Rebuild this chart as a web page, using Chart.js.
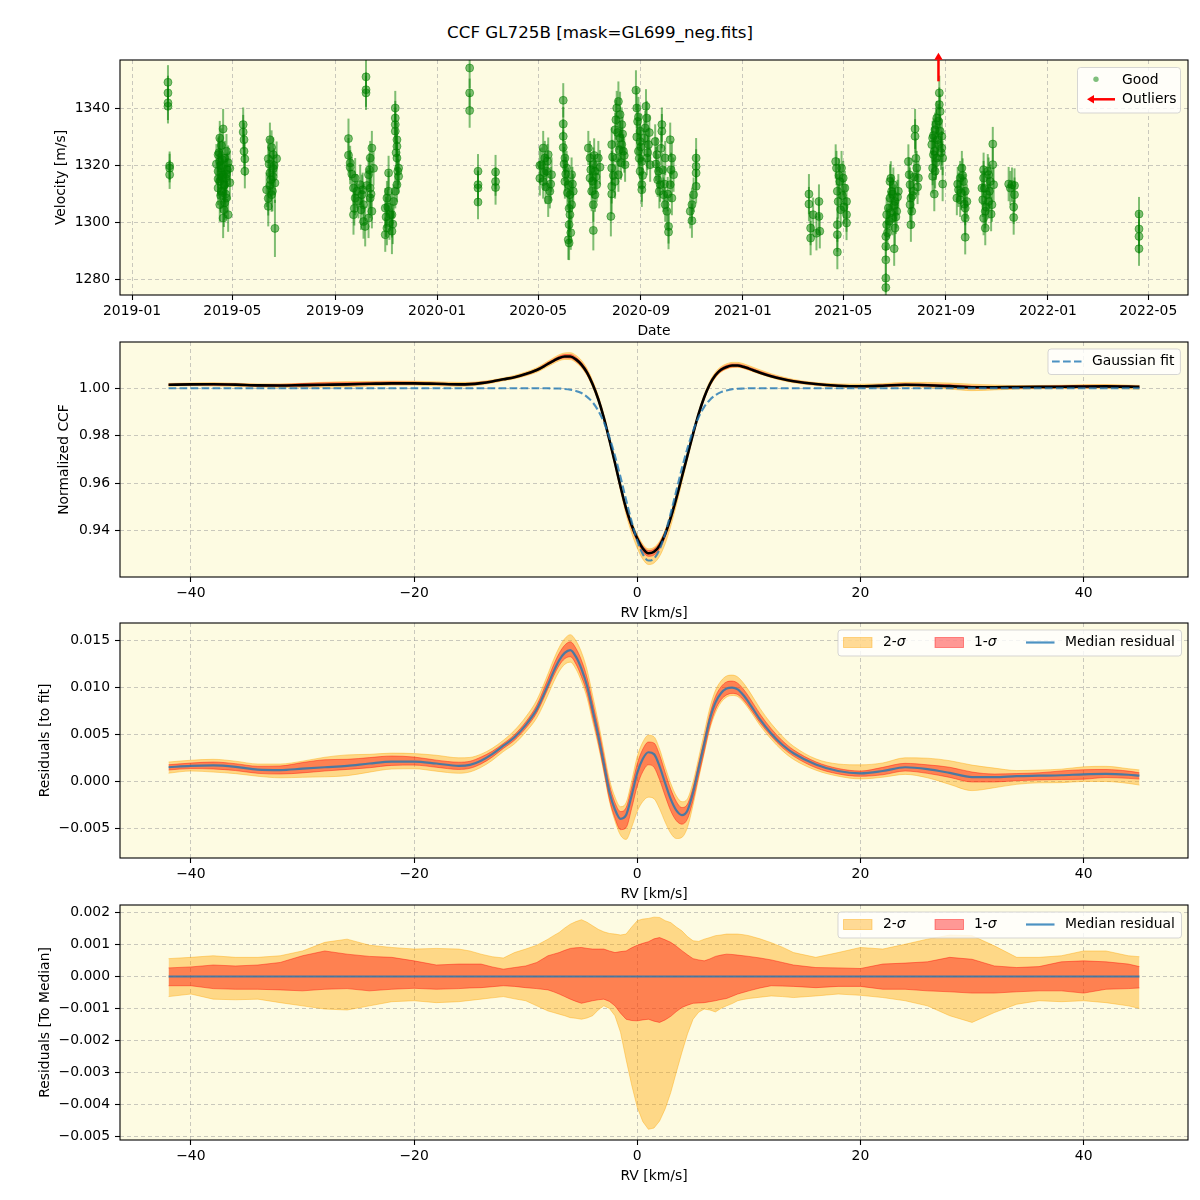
<!DOCTYPE html>
<html>
<head>
<meta charset="utf-8">
<script src="https://cdn.jsdelivr.net/npm/chart.js@4.4.1/dist/chart.umd.min.js"></script>
<style>
  body { margin: 0; background: #fff; }
  #wrap { position: relative; width: 1200px; height: 1200px; }
  canvas { position: absolute; left: 0; }
  #title { position: absolute; left: 0; top: 21px; width: 1200px; text-align: center;
           font-family: 'DejaVu Sans', sans-serif; font-size: 16.7px; line-height: 22px; color: #000; }
</style>
</head>
<body>
<div id="wrap">
  <div id="title">CCF GL725B [mask=GL699_neg.fits]</div>
  <canvas id="rvChart" width="1200" height="340" style="top:0px"></canvas>
  <canvas id="ccfChart" width="1200" height="282" style="top:340px"></canvas>
  <canvas id="residChart" width="1200" height="281" style="top:622px"></canvas>
  <canvas id="medChart" width="1200" height="297" style="top:903px"></canvas>
</div>
<script>
//------ Velocity time series (good points) ------//
const obsDate = [
  '2019-02-13','2019-02-13','2019-02-13','2019-02-13','2019-02-15','2019-02-15','2019-02-15',
  '2019-04-20','2019-04-16','2019-04-14','2019-04-16','2019-04-18','2019-04-14','2019-04-20','2019-04-16','2019-04-22','2019-04-14','2019-04-24','2019-04-16','2019-04-20','2019-04-26','2019-04-22','2019-04-24','2019-04-26','2019-04-24','2019-04-18','2019-04-22','2019-04-12','2019-04-28','2019-04-18','2019-04-28','2019-04-14',
  '2019-05-14','2019-05-14','2019-05-15','2019-05-15','2019-05-16','2019-05-16',
  '2019-06-15','2019-06-17','2019-06-13','2019-06-19','2019-06-15','2019-06-21','2019-06-11','2019-06-17','2019-06-13','2019-06-23','2019-06-19','2019-06-21','2019-06-15','2019-06-19','2019-06-13',
  '2019-09-17','2019-09-17','2019-09-19','2019-09-19','2019-09-25','2019-09-23','2019-09-25','2019-09-23','2019-10-01','2019-10-03','2019-10-05','2019-10-05','2019-10-07','2019-10-11','2019-10-13','2019-10-15','2019-10-13','2019-10-13','2019-10-15','2019-10-11','2019-09-29','2019-10-17',
  '2019-10-08','2019-10-08','2019-10-08',
  '2019-10-31','2019-10-31','2019-11-02','2019-11-04','2019-11-04','2019-11-08','2019-11-06','2019-11-02','2019-11-12','2019-11-12','2019-11-12','2019-11-12','2019-11-14','2019-11-14','2019-11-14','2019-11-16','2019-11-16','2019-11-14','2019-11-12','2019-11-10','2019-11-08',
  '2020-02-09','2020-02-09','2020-02-09',
  '2020-02-19','2020-02-19','2020-02-19','2020-02-19',
  '2020-03-11','2020-03-11','2020-03-11',
  '2020-05-07','2020-05-09','2020-05-05','2020-05-11','2020-05-07','2020-05-15','2020-05-13','2020-05-17','2020-05-13','2020-05-03','2020-05-03',
  '2020-05-31','2020-05-31','2020-05-31','2020-05-31','2020-06-02','2020-06-02','2020-06-04','2020-06-06','2020-06-06','2020-06-08','2020-06-08','2020-06-07','2020-06-07','2020-06-10','2020-06-10','2020-06-12',
  '2020-06-30','2020-07-02','2020-07-02','2020-07-06','2020-07-06','2020-07-06','2020-07-08','2020-07-08','2020-07-10','2020-07-04','2020-07-12','2020-07-14',
  '2020-07-27','2020-07-28','2020-07-28','2020-07-28','2020-07-28','2020-08-01','2020-08-01','2020-08-03','2020-08-03','2020-08-05','2020-08-05','2020-08-07','2020-08-07','2020-08-09','2020-08-09','2020-08-11','2020-08-13',
  '2020-08-26','2020-08-27','2020-08-28','2020-08-31','2020-08-31','2020-08-29','2020-09-02','2020-09-02','2020-09-02','2020-08-31','2020-09-07','2020-09-08','2020-09-08','2020-09-06','2020-09-10','2020-09-12',
  '2020-09-18','2020-09-20','2020-09-22','2020-09-24','2020-09-26','2020-09-26','2020-09-28','2020-09-30','2020-09-30','2020-10-02','2020-10-04','2020-10-04','2020-10-06','2020-10-06','2020-10-08','2020-10-08','2020-10-10',
  '2020-11-06','2020-11-06','2020-11-06','2020-11-06','2020-11-03','2020-11-01','2020-10-30','2020-11-01',
  '2021-03-21','2021-03-21','2021-03-23','2021-03-23','2021-03-26','2021-03-30','2021-04-02','2021-04-02','2021-04-03',
  '2021-04-22','2021-04-23','2021-04-24','2021-04-24','2021-04-24','2021-04-24','2021-04-25','2021-04-29','2021-05-01','2021-05-03','2021-05-05','2021-05-05','2021-05-05','2021-04-27',
  '2021-06-21','2021-06-21','2021-06-21','2021-06-21','2021-06-21','2021-06-22','2021-06-22','2021-06-24','2021-06-26','2021-06-26','2021-06-28','2021-06-30','2021-07-02','2021-07-02','2021-07-04','2021-07-01','2021-06-29','2021-07-06',
  '2021-07-18','2021-07-19','2021-07-20','2021-07-21','2021-07-20','2021-07-21','2021-07-26','2021-07-26','2021-07-28','2021-07-30','2021-07-24','2021-07-22',
  '2021-08-24','2021-08-24','2021-08-25','2021-08-21','2021-08-21','2021-08-19','2021-08-16','2021-08-16','2021-08-16','2021-08-15','2021-08-17','2021-08-18','2021-08-27','2021-08-27','2021-08-28','2021-08-28','2021-08-23','2021-08-20',
  '2021-09-20','2021-09-18','2021-09-18','2021-09-16','2021-09-24','2021-09-24','2021-09-24','2021-09-24','2021-09-14','2021-09-22','2021-09-26',
  '2021-10-27','2021-10-27','2021-10-16','2021-10-16','2021-10-16','2021-10-14','2021-10-20','2021-10-22','2021-10-22','2021-10-18','2021-10-18','2021-10-24','2021-10-28','2021-10-26',
  '2021-11-15','2021-11-17','2021-11-19','2021-11-22','2021-11-22','2021-11-21','2021-11-21',
  '2022-04-20','2022-04-20','2022-04-20','2022-04-20',
  // more points inside the dense clusters
  '2019-04-17','2019-04-19','2019-04-21','2019-04-23','2019-04-15','2019-04-25','2019-04-19','2019-04-17','2019-04-21','2019-04-23',
  '2019-06-14','2019-06-16','2019-06-18','2019-06-20',
  '2019-09-21','2019-09-27','2019-10-02','2019-10-04','2019-10-09','2019-10-12','2019-10-14','2019-09-24',
  '2019-11-01','2019-11-03','2019-11-05','2019-11-13','2019-11-15','2019-11-09',
  '2020-05-08','2020-05-10','2020-05-12','2020-05-16',
  '2020-06-03','2020-06-05','2020-06-07','2020-06-09','2020-06-11','2020-06-01',
  '2020-07-03','2020-07-05','2020-07-07','2020-07-09',
  '2020-07-29','2020-07-30','2020-08-02','2020-08-04','2020-08-06','2020-08-08','2020-08-10','2020-08-12',
  '2020-08-27','2020-08-29','2020-08-30','2020-09-01','2020-09-03','2020-09-05','2020-09-09','2020-09-11',
  '2020-09-19','2020-09-21','2020-09-23','2020-09-25','2020-09-27','2020-09-29','2020-10-03','2020-10-07',
  '2021-04-26','2021-04-28','2021-04-30','2021-05-02',
  '2021-06-23','2021-06-25','2021-06-27','2021-06-29','2021-07-01','2021-07-03','2021-06-27','2021-07-05',
  '2021-07-23','2021-07-25','2021-07-27','2021-07-29',
  '2021-08-17','2021-08-18','2021-08-20','2021-08-22','2021-08-23','2021-08-25','2021-08-26','2021-08-19',
  '2021-09-15','2021-09-19','2021-09-21','2021-09-23',
  '2021-10-15','2021-10-17','2021-10-19','2021-10-21','2021-10-23','2021-10-25'
];
const obsVel = [
  1349.1,1345.4,1341.9,1340.7,1319.9,1319.1,1316.8,
  1332.8,1329.6,1323.8,1321.4,1319.1,1318.0,1316.8,1314.5,1313.3,1312.1,1308.6,1306.3,1301.6,1302.8,1322.6,1325.0,1321.0,1317.0,1311.0,1307.0,1320.5,1319.0,1327.0,1314.0,1315.3,
  1334.3,1331.7,1329.0,1325.0,1322.3,1318.0,
  1329.0,1326.3,1322.4,1318.9,1317.4,1313.9,1311.5,1309.8,1305.7,1322.4,1323.8,1298.0,1313.0,1316.0,1308.5,
  1329.4,1323.6,1320.9,1319.4,1315.6,1312.1,1308.6,1302.8,1313.3,1309.8,1306.3,1300.4,1298.7,1316.8,1322.6,1326.1,1312.1,1308.6,1304.0,1301.6,1307.5,1319.0,
  1351.0,1346.5,1345.4,
  1305.1,1295.8,1298.1,1311.0,1317.4,1297.0,1302.8,1308.6,1340.1,1336.6,1334.3,1332.0,1329.0,1326.7,1322.6,1319.1,1316.2,1313.3,1311.0,1307.4,1302.8,
  1354.1,1345.4,1339.2,
  1318.0,1313.3,1312.1,1307.2,
  1317.7,1314.4,1312.3,
  1326.1,1322.6,1320.3,1318.0,1314.4,1311.0,1308.0,1316.8,1323.8,1320.0,1315.5,
  1342.8,1334.5,1330.2,1326.3,1322.6,1314.4,1319.1,1313.3,1294.0,1309.8,1302.8,1299.3,1292.9,1306.3,1316.8,1311.0,
  1326.1,1322.6,1315.6,1320.3,1306.3,1297.3,1318.0,1309.8,1313.3,1311.0,1322.6,1319.4,
  1302.2,1310.0,1312.7,1319.1,1327.3,1332.5,1314.4,1340.1,1322.6,1342.4,1316.8,1337.8,1329.6,1334.3,1327.3,1325.0,1320.3,
  1346.3,1340.1,1335.4,1332.0,1328.4,1325.0,1321.4,1313.3,1311.5,1318.0,1340.7,1336.6,1322.6,1333.1,1327.3,1320.3,
  1328.4,1323.8,1318.0,1313.3,1334.3,1332.0,1309.8,1306.3,1322.6,1304.0,1298.7,1296.7,1329.0,1313.3,1322.6,1308.6,1316.8,
  1322.6,1319.7,1317.4,1312.7,1309.8,1306.3,1304.0,1300.7,
  1310.0,1306.5,1298.1,1294.6,1302.8,1296.3,1307.4,1302.2,1297.0,
  1321.4,1319.1,1311.0,1299.3,1295.8,1289.7,1307.4,1319.1,1315.6,1312.1,1307.4,1302.8,1299.9,1314.4,
  1277.3,1280.6,1287.0,1291.7,1295.2,1299.3,1302.8,1305.1,1308.6,1314.4,1311.0,1313.3,1307.4,1298.1,1304.0,1290.9,1301.6,1311.0,
  1321.4,1316.8,1313.3,1308.6,1306.3,1299.3,1332.8,1330.2,1319.1,1315.6,1311.0,1304.0,
  1345.4,1341.3,1338.9,1336.6,1322.6,1332.5,1329.6,1319.1,1316.2,1327.3,1323.8,1310.0,1330.2,1326.1,1322.6,1313.5,1327.3,1334.3,
  1319.1,1315.6,1308.0,1311.5,1311.0,1305.1,1301.6,1294.9,1308.6,1314.4,1307.4,
  1327.5,1320.3,1318.5,1315.6,1301.6,1312.1,1309.8,1307.4,1316.8,1304.0,1298.1,1314.4,1313.3,1306.3,
  1313.5,1312.1,1313.3,1313.0,1309.8,1305.5,1301.8,
  1303.0,1297.8,1295.2,1290.9,
  // more points inside the dense clusters
  1320.0,1316.0,1313.0,1310.0,1324.5,1318.5,1322.0,1309.5,1304.5,1315.5,
  1320.5,1315.0,1311.0,1320.0,
  1317.0,1311.0,1304.5,1311.5,1313.0,1318.5,1310.0,1305.0,
  1302.0,1305.5,1300.0,1324.5,1318.0,1299.5,
  1317.5,1312.5,1321.5,1313.5,
  1317.0,1310.5,1305.0,1296.5,1313.5,1320.5,
  1318.5,1314.5,1323.5,1316.0,
  1323.0,1316.5,1336.0,1331.5,1325.5,1321.0,1331.0,1323.5,
  1330.0,1337.0,1322.5,1326.5,1316.5,1329.5,1324.5,1331.5,
  1320.5,1315.0,1311.0,1326.0,1318.5,1313.5,1310.0,1318.5,
  1316.5,1304.5,1309.5,1305.5,
  1296.5,1300.5,1303.5,1310.0,1306.0,1302.0,1315.5,1309.0,
  1309.5,1316.0,1322.5,1312.5,
  1330.5,1325.0,1321.0,1329.0,1335.5,1332.0,1324.5,1318.0,
  1313.5,1310.5,1316.5,1306.5,
  1308.0,1312.0,1305.5,1318.0,1311.0,1303.0
];
const obsErr = [
  6,6,6,6,5,5,5,
  7,6,6,7,6,6,7,6,7,6,7,6,7,6,6,6,6,7,6,6,7,6,6,6,6,
  6,6,6,6,6,6,
  6,6,7,6,6,7,6,6,7,6,6,10,6,6,6,
  7,6,6,6,7,6,6,7,7,7,7,6,7,6,6,6,7,7,6,7,6,6,
  6,6,6,
  7,6,6,7,6,8,7,6,6,6,6,6,6,6,6,6,6,6,6,6,8,
  7,5,6,
  6,5,6,6,
  6,5,6,
  6,6,6,6,6,6,6,6,6,6,6,
  6,6,6,6,6,6,6,6,7,6,6,6,6,6,6,6,
  6,6,6,6,6,7,6,6,6,7,6,6,
  7,7,6,6,6,6,6,6,6,7,6,8,6,6,6,6,6,
  7,7,6,6,6,6,6,6,6,6,6,6,6,6,6,6,
  6,6,6,6,6,6,6,6,6,6,6,6,6,6,6,6,6,
  7,6,6,6,6,6,6,6,
  7,6,6,6,6,6,6,6,6,
  6,6,6,6,6,6,6,6,6,6,6,6,6,6,
  5,5,5,5,5,6,6,6,6,6,6,6,6,6,6,6,6,6,
  6,6,6,6,6,6,7,6,6,6,6,6,
  6,6,6,6,6,6,6,6,6,6,6,6,6,6,6,6,6,6,
  6,6,6,6,6,6,6,6,6,6,6,
  6,6,6,6,6,6,6,6,6,6,6,6,6,6,
  6,6,6,6,6,6,6,
  6,6,6,6,
  // more points inside the dense clusters
  6,7,6,6,6,6,7,6,6,6,
  6,6,7,6,
  6,6,7,6,6,6,7,6,
  7,6,6,6,6,7,
  6,6,6,6,
  6,6,7,6,6,6,
  6,6,6,6,
  6,6,7,6,6,6,6,6,
  6,7,6,6,6,6,6,6,
  6,6,6,6,6,6,6,6,
  6,6,6,6,
  6,6,6,6,6,6,6,6,
  6,6,7,6,
  6,6,6,6,6,6,6,6,
  6,6,6,6,
  6,6,6,6,6,6
];
const outlierDate = ['2021-08-23'];
const dateTicks = ['2019-01','2019-05','2019-09','2020-01','2020-05','2020-09','2021-01','2021-05','2021-09','2022-01','2022-05'];
const velTicks = [1280, 1300, 1320, 1340];

//------ CCF profiles (RV grid in km/s) ------//
const rvGrid = [-42,-40,-38,-36,-34,-32,-30,-28,-26,-24,-22,-20,-18,-16,
  -15,-14,-13,-12,-11,-10,-9,
  -8,-7.5,-7,-6.5,-6,-5.5,-5,-4.5,-4,-3.5,-3,-2.5,-2,-1.5,-1,-0.5,0,0.5,1,1.5,2,2.5,3,3.5,4,4.5,5,5.5,6,6.5,7,7.5,8,8.5,9,9.5,10,
  11,12,13,14,
  16,18,20,22,24,26,28,30,32,34,36,38,40,42,44,45];
const ccfMedian = [1.0015,1.00165,1.0017,1.00155,1.00125,1.0012,1.00135,1.0015,1.00165,1.0019,1.0021,1.0021,1.0019,1.00165,
  1.00175,1.0022,1.0029,1.0038,1.0047,1.0060,1.0077,
  1.0103,1.0116,1.0128,1.0134,1.0134,1.0122,1.0100,1.0066,1.0017,0.9955,0.9877,0.9783,0.9686,0.9586,0.9494,0.9423,0.9367,0.9325,0.9305,0.9311,0.9337,0.9386,0.9455,0.9537,0.9627,0.9717,0.9808,0.9892,0.9962,1.0017,1.0055,1.0078,1.0090,1.0096,1.0096,1.0091,1.0083,
  1.0066,1.0051,1.0039,1.0030,
  1.0018,1.0011,1.00085,1.0011,1.0015,1.0013,1.0009,1.00045,1.00045,1.00055,1.0006,1.00065,1.00075,1.0008,1.0007,1.0006];
const ccfFit = [1,1,1,1,1,1,1,1,1,1,1,1,1,1,
  1,1,1,1,1,1,1,
  1.0000,0.9999,0.9999,0.9997,0.9994,0.9989,0.9980,0.9964,0.9941,0.9906,0.9858,0.9794,0.9716,0.9626,0.9530,0.9438,0.9358,0.9301,0.9274,0.9282,0.9321,0.9388,0.9474,0.9568,0.9663,0.9748,0.9820,0.9878,0.9922,0.9951,0.9971,0.9984,0.9991,0.9996,0.9998,0.9999,1.0000,
  1,1,1,1,
  1,1,1,1,1,1,1,1,1,1,1,1,1,1,1,1];
// residual to fit, units of 1e-3
const residMedian = [1.5,1.65,1.7,1.55,1.25,1.2,1.35,1.5,1.65,1.9,2.1,2.1,1.9,1.65,
  1.75,2.2,2.9,3.8,4.7,6.0,7.7,
  10.3,11.7,12.9,13.7,14.0,13.3,12.0,10.2,7.6,4.9,1.9,-1.1,-3.0,-4.0,-3.6,-1.5,0.9,2.4,3.1,2.9,1.6,-0.2,-1.9,-3.1,-3.6,-3.1,-1.2,1.4,4.0,6.6,8.4,9.4,9.9,10.0,9.8,9.2,8.4,
  6.6,5.1,3.9,3.0,
  1.8,1.1,0.85,1.1,1.5,1.3,0.9,0.45,0.45,0.55,0.6,0.65,0.75,0.8,0.7,0.6];
// percentile bands relative to the median, units of 1e-3
const sig2Up = [0.56,0.60,0.65,0.60,0.60,0.65,0.80,1.07,1.17,0.98,0.91,0.86,0.88,0.86,
  0.80,0.70,0.62,0.58,0.75,0.86,0.98,
  1.17,1.28,1.38,1.52,1.64,1.72,1.78,1.70,1.59,1.48,1.40,1.35,1.33,1.30,1.33,1.55,1.75,1.80,1.82,1.86,1.85,1.75,1.69,1.55,1.43,1.25,1.12,1.10,1.17,1.22,1.28,1.30,1.33,1.33,1.33,1.31,1.28,
  1.18,1.06,0.92,0.75,
  0.60,0.75,0.91,0.86,1.01,1.17,1.30,1.28,0.96,0.60,0.60,0.65,0.80,0.80,0.65,0.62];
const sig1Up = [0.27,0.30,0.36,0.33,0.36,0.44,0.65,0.80,0.70,0.63,0.60,0.49,0.36,0.39,
  0.39,0.39,0.30,0.23,0.28,0.33,0.44,
  0.65,0.70,0.75,0.82,0.88,0.90,0.91,0.88,0.86,0.86,0.86,0.80,0.75,0.78,0.80,0.90,0.98,1.04,1.09,1.18,1.22,1.15,1.07,0.95,0.81,0.68,0.56,0.52,0.49,0.55,0.63,0.67,0.70,0.69,0.67,0.65,0.63,
  0.58,0.52,0.44,0.36,
  0.28,0.27,0.25,0.39,0.42,0.46,0.60,0.54,0.33,0.28,0.31,0.46,0.49,0.46,0.39,0.31];
const sig1Lo = [-0.29,-0.29,-0.38,-0.40,-0.40,-0.42,-0.45,-0.40,-0.38,-0.45,-0.40,-0.37,-0.40,-0.38,
  -0.36,-0.35,-0.32,-0.29,-0.31,-0.35,-0.38,
  -0.42,-0.48,-0.55,-0.63,-0.71,-0.78,-0.84,-0.80,-0.76,-0.73,-0.71,-0.78,-0.92,-1.15,-1.34,-1.38,-1.39,-1.36,-1.34,-1.40,-1.44,-1.36,-1.25,-1.10,-0.97,-0.90,-0.84,-0.83,-0.82,-0.79,-0.76,-0.72,-0.69,-0.62,-0.55,-0.50,-0.45,
  -0.36,-0.29,-0.30,-0.31,
  -0.35,-0.31,-0.31,-0.40,-0.40,-0.45,-0.48,-0.52,-0.52,-0.48,-0.45,-0.45,-0.52,-0.40,-0.38,-0.36];
const sig2Lo = [-0.63,-0.55,-0.71,-0.73,-0.71,-0.82,-0.92,-1.02,-1.05,-0.92,-0.79,-0.76,-0.82,-0.79,
  -0.75,-0.71,-0.67,-0.63,-0.70,-0.76,-0.92,
  -1.08,-1.13,-1.18,-1.23,-1.29,-1.31,-1.34,-1.30,-1.23,-1.05,-0.92,-1.00,-1.23,-1.75,-2.60,-3.40,-4.10,-4.55,-4.79,-4.75,-4.53,-4.15,-3.64,-3.00,-2.38,-1.80,-1.34,-1.12,-1.02,-1.05,-1.11,-1.00,-0.92,-0.85,-0.76,-0.72,-0.69,
  -0.65,-0.61,-0.63,-0.66,
  -0.61,-0.55,-0.59,-0.66,-0.76,-0.92,-1.23,-1.44,-1.13,-0.87,-0.76,-0.79,-0.76,-0.82,-0.92,-1.00];
const rvTicks = [-40, -20, 0, 20, 40];
const ccfTicks = [0.94, 0.96, 0.98, 1.00];
const residTicks = [-0.005, 0, 0.005, 0.010, 0.015];
const medTicks = [-0.005, -0.004, -0.003, -0.002, -0.001, 0, 0.001, 0.002];

//------ Styles ------//
Chart.defaults.font.family = "'DejaVu Sans', sans-serif";
Chart.defaults.font.size = 13.9;
Chart.defaults.color = '#000';

const font = "13.9px 'DejaVu Sans'";
const italicFont = "italic 13.9px 'DejaVu Sans'";
const plotBg = '#fdfbe2';
const gridColor = 'rgba(150,150,150,0.5)';
const orangeBand = 'rgba(255,165,0,0.4)';
const redBand = 'rgba(255,0,0,0.4)';
const medianBlue = 'rgba(31,119,180,0.8)';
const goodGreen = 'rgba(0,128,0,0.5)';

const epoch = Date.UTC(2019, 0, 1);
function toDay(s) {
  const p = s.split('-').map(Number);
  return (Date.UTC(p[0], p[1] - 1, p[2] || 1) - epoch) / 86400000;
}
const minus = s => s.replace('-', '\u2212');

function axis(min, max, ticks, fmt, title, isX, titlePad) {
  return {
    type: 'linear', min: min, max: max,
    afterBuildTicks: s => { s.ticks = ticks.map(v => ({ value: v })); },
    afterFit: s => {
      if (isX) { s.height = 45; s.paddingLeft = 0; s.paddingRight = 0; }
      else { s.width = 120; s.paddingTop = 0; s.paddingBottom = 0; }
    },
    ticks: { callback: fmt, padding: isX ? 3 : 5, autoSkip: false, maxRotation: 0, color: '#000' },
    grid: { color: gridColor, lineWidth: 1, borderDash: [4, 3], tickLength: 5, tickColor: '#000', tickWidth: 1.1, tickBorderDash: [] },
    border: { display: false, dash: [4, 3] },
    title: { display: true, text: title, color: '#000',
             padding: isX ? { top: 0, bottom: 0.5 } : { top: titlePad, bottom: 0 } }
  };
}

//------ Shared plugins ------//
const frame = {
  id: 'frame',
  beforeDraw(chart) {
    const { ctx, chartArea: a } = chart;
    ctx.save();
    ctx.fillStyle = plotBg;
    ctx.fillRect(a.left, a.top, a.right - a.left, a.bottom - a.top);
    ctx.restore();
  },
  afterDraw(chart) {
    const { ctx, chartArea: a } = chart;
    ctx.save();
    ctx.strokeStyle = '#000';
    ctx.lineWidth = 1.1;
    ctx.strokeRect(a.left, a.top, a.right - a.left, a.bottom - a.top);
    ctx.restore();
  }
};

function legendBox(ctx, l, t, w, h) {
  ctx.save();
  ctx.beginPath();
  if (ctx.roundRect) ctx.roundRect(l, t, w, h, 3); else ctx.rect(l, t, w, h);
  ctx.fillStyle = 'rgba(255,255,255,0.8)';
  ctx.fill();
  ctx.strokeStyle = 'rgba(204,204,204,0.8)';
  ctx.lineWidth = 1;
  ctx.stroke();
  ctx.restore();
}

function arrow(ctx, x0, y0, x1, y1) {
  const ang = Math.atan2(y1 - y0, x1 - x0);
  const head = 7, half = 4.2;
  const bx = x1 - head * Math.cos(ang), by = y1 - head * Math.sin(ang);
  ctx.beginPath(); ctx.moveTo(x0, y0); ctx.lineTo(bx, by); ctx.stroke();
  ctx.beginPath();
  ctx.moveTo(x1, y1);
  ctx.lineTo(bx + half * Math.sin(ang), by - half * Math.cos(ang));
  ctx.lineTo(bx - half * Math.sin(ang), by + half * Math.cos(ang));
  ctx.closePath();
  ctx.fill();
}

function patch(ctx, x, y, w, h, color) {
  ctx.fillStyle = color; ctx.strokeStyle = color; ctx.lineWidth = 1;
  ctx.fillRect(x, y, w, h); ctx.strokeRect(x, y, w, h);
}

function sigmaLabel(ctx, prefix, x, y) {
  ctx.font = font;
  ctx.fillText(prefix, x, y);
  const w = ctx.measureText(prefix).width;
  ctx.font = italicFont;
  ctx.fillText('\u03c3', x + w, y);
}

const sigmaLegend = {
  id: 'sigmaLegend',
  afterDraw(chart) {
    const { ctx, chartArea: a } = chart;
    const l = a.right - 350, t = a.top + 7, cy = t + 12.5;
    legendBox(ctx, l, t, 343.5, 26);
    ctx.save();
    patch(ctx, l + 5.5, cy - 5, 28.5, 10, orangeBand);
    patch(ctx, l + 97, cy - 5, 28.5, 10, redBand);
    ctx.strokeStyle = medianBlue; ctx.lineWidth = 2.2;
    ctx.beginPath(); ctx.moveTo(l + 188, cy); ctx.lineTo(l + 216.5, cy); ctx.stroke();
    ctx.fillStyle = '#000'; ctx.textBaseline = 'middle'; ctx.textAlign = 'left';
    sigmaLabel(ctx, '2-', l + 45, cy);
    sigmaLabel(ctx, '1-', l + 136, cy);
    ctx.font = font;
    ctx.fillText('Median residual', l + 227, cy);
    ctx.restore();
  }
};

//------ Panel 1: velocity vs date ------//
const errorBars = {
  id: 'errorBars',
  beforeDatasetsDraw(chart) {
    const { ctx, chartArea: a, scales: { x, y } } = chart;
    ctx.save();
    ctx.beginPath(); ctx.rect(a.left, a.top, a.right - a.left, a.bottom - a.top); ctx.clip();
    ctx.strokeStyle = goodGreen; ctx.lineWidth = 2;
    obsVel.forEach((v, i) => {
      const px = x.getPixelForValue(toDay(obsDate[i]));
      ctx.beginPath();
      ctx.moveTo(px, y.getPixelForValue(v - obsErr[i]));
      ctx.lineTo(px, y.getPixelForValue(v + obsErr[i]));
      ctx.stroke();
    });
    ctx.restore();
  }
};

const rvExtras = {
  id: 'rvExtras',
  afterDraw(chart) {
    const { ctx, chartArea: a, scales: { x } } = chart;
    ctx.save();
    ctx.strokeStyle = 'red'; ctx.fillStyle = 'red'; ctx.lineWidth = 2.5;
    outlierDate.forEach(d => {
      const px = x.getPixelForValue(toDay(d));
      arrow(ctx, px, a.top + 21.3, px, a.top - 7.3);
    });
    ctx.restore();

    const l = a.right - 110.5, t = a.top + 7.5;
    legendBox(ctx, l, t, 103, 45.5);
    ctx.save();
    ctx.fillStyle = goodGreen;
    ctx.beginPath(); ctx.arc(l + 18.5, t + 11.8, 2.7, 0, Math.PI * 2); ctx.fill();
    ctx.strokeStyle = 'red'; ctx.fillStyle = 'red'; ctx.lineWidth = 2.5;
    arrow(ctx, l + 37.5, t + 31.8, l + 9.5, t + 31.8);
    ctx.fillStyle = '#000'; ctx.font = font; ctx.textBaseline = 'middle';
    ctx.fillText('Good', l + 44.5, t + 12.5);
    ctx.fillText('Outliers', l + 44.5, t + 32.3);
    ctx.restore();
  }
};

new Chart(document.getElementById('rvChart'), {
  type: 'scatter',
  data: {
    datasets: [{
      label: 'Good',
      data: obsVel.map((v, i) => ({ x: toDay(obsDate[i]), y: v })),
      backgroundColor: goodGreen,
      borderColor: goodGreen,
      borderWidth: 1,
      pointRadius: 4
    }]
  },
  options: {
    responsive: false, animation: false, devicePixelRatio: 1, events: [],
    layout: { padding: { top: 60, right: 12, left: 0, bottom: 0 } },
    plugins: { legend: { display: false }, tooltip: { enabled: false } },
    scales: {
      x: axis(-14.4, 1263.6, dateTicks.map(toDay), (v, i) => dateTicks[i], 'Date', true),
      y: axis(1274.7, 1356.9, velTicks, v => String(v), 'Velocity [m/s]', false, 52.7)
    }
  },
  plugins: [frame, errorBars, rvExtras]
});

//------ RV panels ------//
const pts = (vals) => rvGrid.map((x, i) => ({ x: x, y: vals[i] }));
const shifted = (base, off) => rvGrid.map((x, i) => ({ x: x, y: base[i] + off[i] * 1e-3 }));

function bandSets(base, smooth) {
  const common = { pointRadius: 0, borderWidth: 1, tension: 0 };
  if (smooth) common.cubicInterpolationMode = 'monotone';
  return [
    Object.assign({ data: shifted(base, sig2Up), borderColor: orangeBand, backgroundColor: orangeBand, fill: '+1', order: 3 }, common),
    Object.assign({ data: shifted(base, sig2Lo), borderColor: orangeBand, fill: false, order: 3 }, common),
    Object.assign({ data: shifted(base, sig1Up), borderColor: redBand, backgroundColor: redBand, fill: '+1', order: 2 }, common),
    Object.assign({ data: shifted(base, sig1Lo), borderColor: redBand, fill: false, order: 2 }, common)
  ];
}

function rvChart(id, padTop, padBottom, yMin, yMax, yTicks, yFmt, yTitle, yPad, datasets, extra) {
  return new Chart(document.getElementById(id), {
    type: 'line',
    data: { datasets: datasets },
    options: {
      responsive: false, animation: false, devicePixelRatio: 1, events: [],
      layout: { padding: { top: padTop, right: 12, left: 0, bottom: padBottom } },
      plugins: { legend: { display: false }, tooltip: { enabled: false } },
      scales: {
        x: axis(-46.35, 49.35, rvTicks, v => minus(String(v)), 'RV [km/s]', true),
        y: axis(yMin, yMax, yTicks, yFmt, yTitle, false, yPad)
      }
    },
    plugins: [frame, extra]
  });
}

// Panel 2: normalized CCF
const ccfLegend = {
  id: 'ccfLegend',
  afterDraw(chart) {
    const { ctx, chartArea: a } = chart;
    const l = a.right - 140, t = a.top + 7, cy = t + 12.5;
    legendBox(ctx, l, t, 132.4, 25.5);
    ctx.save();
    ctx.strokeStyle = medianBlue; ctx.lineWidth = 2.1; ctx.setLineDash([7.7, 3.3]);
    ctx.beginPath(); ctx.moveTo(l + 4, cy); ctx.lineTo(l + 33.5, cy); ctx.stroke();
    ctx.setLineDash([]);
    ctx.fillStyle = '#000'; ctx.font = font; ctx.textBaseline = 'middle';
    ctx.fillText('Gaussian fit', l + 44, cy);
    ctx.restore();
  }
};

rvChart('ccfChart', 2, 0, 0.92046, 1.01952, ccfTicks, v => v.toFixed(2), 'Normalized CCF', 56.4,
  bandSets(ccfMedian, true).concat([
    { data: pts(ccfMedian), borderColor: '#000', borderWidth: 2.6, pointRadius: 0, cubicInterpolationMode: 'monotone', order: 1 },
    { data: pts(ccfFit), borderColor: medianBlue, borderWidth: 2.1, borderDash: [7.7, 3.3], pointRadius: 0, cubicInterpolationMode: 'monotone', order: 0 }
  ]), ccfLegend);

// Panel 3: residuals to fit
const residAbs = residMedian.map(v => v * 1e-3);
rvChart('residChart', 1, 0, -0.008177, 0.016887, residTicks, v => minus(v.toFixed(3)), 'Residuals [to fit]', 36.7,
  bandSets(residAbs, true).concat([
    { data: pts(residAbs), borderColor: medianBlue, borderWidth: 2.2, pointRadius: 0, cubicInterpolationMode: 'monotone', order: 0 }
  ]), sigmaLegend);

// Panel 4: residuals to median (median is zero by construction)
const zeroLine = rvGrid.map(() => 0);
rvChart('medChart', 2, 15, -0.005125, 0.002241, medTicks, v => minus(v.toFixed(3)), 'Residuals [To Median]', 36.7,
  bandSets(zeroLine, false).concat([
    { data: pts(zeroLine), borderColor: medianBlue, borderWidth: 2.2, pointRadius: 0, order: 0 }
  ]), sigmaLegend);
</script>
</body>
</html>
